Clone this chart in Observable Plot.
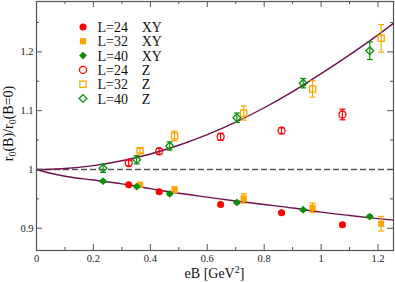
<!DOCTYPE html>
<html><head><meta charset="utf-8">
<script src="https://cdn.jsdelivr.net/npm/d3@7"></script>
<script src="https://cdn.jsdelivr.net/npm/@observablehq/plot@0.6"></script>
<style>
html,body{margin:0;padding:0;background:#fff;}
#chart{width:395px;height:282px;}
#chart svg, #chart svg text{font-family:'Liberation Serif','Times New Roman',serif !important;}
</style></head><body><div id="chart"></div>
<script>
// ---- data ----
const eB_L24 = [0.324, 0.431, 0.647, 0.861, 1.075];
const L24_XY = [0.974, 0.962, 0.9405, 0.9263, 0.906];
const L24_XY_err = [0.002, 0.002, 0.002, 0.002, 0.003];
const L24_Z = [1.011, 1.031, 1.0556, 1.066, 1.0935];
const L24_Z_err = [0.005, 0.005, 0.006, 0.005, 0.009];

const eB_L32 = [0.364, 0.485, 0.728, 0.970, 1.211];
const L32_XY = [0.974, 0.9655, 0.9507, 0.935, 0.9077];
const L32_XY_err = [0.003, 0.005, 0.008, 0.008, 0.0125];
const L32_Z = [1.032, 1.057, 1.096, 1.137, 1.223];
const L32_Z_err = [0.004, 0.008, 0.012, 0.014, 0.0235];

const eB_L40 = [0.234, 0.352, 0.468, 0.704, 0.937, 1.171];
const L40_XY = [0.980, 0.971, 0.9587, 0.944, 0.9315, 0.920];
const L40_XY_err = [0.002, 0.002, 0.002, 0.002, 0.002, 0.002];
const L40_Z = [1.002, 1.0165, 1.040, 1.088, 1.1468, 1.202];
const L40_Z_err = [0.007, 0.007, 0.007, 0.008, 0.008, 0.015];

// fit curves
const fit_eB = [0, 0.05, 0.1, 0.2, 0.3, 0.4, 0.5, 0.6, 0.7, 0.8, 0.9, 1.0, 1.1, 1.2, 1.255];
const fit_Z  = [1.0, 1.0004, 1.0016, 1.0066, 1.0148, 1.0264, 1.0412, 1.0592, 1.0805, 1.105, 1.1325, 1.163, 1.195, 1.229, 1.249];
const fit_XY = [1.0, 0.9935, 0.9885, 0.982, 0.9755, 0.9675, 0.9595, 0.953, 0.9465, 0.9405, 0.9345, 0.9275, 0.9218, 0.9165, 0.9138];

// ticks
const xMajor = [0, 0.2, 0.4, 0.6, 0.8, 1.0, 1.2];
const xTickLabels = ["0", "0.2", "0.4", "0.6", "0.8", "1", "1.2"];
const xMinor = [0.1, 0.3, 0.5, 0.7, 0.9, 1.1];
const yMajor = [0.9, 1.0, 1.1, 1.2];
const yTickLabels = ["0.9", "1", "1.1", "1.2"];
const yMinor = [0.95, 1.05, 1.15, 1.25];

// legend
const legendL = ["L=24", "L=32", "L=40", "L=24", "L=32", "L=40"];
const legendDir = ["XY", "XY", "XY", "Z", "Z", "Z"];

// ---- build ----
const W = 395, H = 282, mt = 1, mr = 2, mb = 32, ml = 36;
const frameW = W - ml - mr, frameH = H - mt - mb;
const RED = "#ff0000", ORANGE = "#ffa500", GREEN = "#0a8f0a", CURVE = "#6e104e", AX = "#555";

const ser = (x, y, e) => x.map((v, i) => ({eB: v, r: y[i], err: e[i]}));
const series = [
  {data: ser(eB_L24, L24_XY, L24_XY_err), color: RED, symbol: "circle", filled: true},
  {data: ser(eB_L32, L32_XY, L32_XY_err), color: ORANGE, symbol: "square", filled: true},
  {data: ser(eB_L40, L40_XY, L40_XY_err), color: GREEN, symbol: "diamond2", filled: true},
  {data: ser(eB_L24, L24_Z, L24_Z_err), color: RED, symbol: "circle", filled: false},
  {data: ser(eB_L32, L32_Z, L32_Z_err), color: ORANGE, symbol: "square", filled: false},
  {data: ser(eB_L40, L40_Z, L40_Z_err), color: GREEN, symbol: "diamond2", filled: false}
];
const fit = fit_eB.map((x, i) => ({eB: x, z: fit_Z[i], xy: fit_XY[i]}));

const cap = {draw(ctx, size) { const r = Math.sqrt(size / Math.PI); ctx.moveTo(-r, 0); ctx.lineTo(r, 0); }};

const marks = [
  Plot.ruleY([1], {stroke: AX, strokeWidth: 1.6, strokeDasharray: "6,3"}),
  Plot.line(fit, {x: "eB", y: "z", stroke: CURVE, strokeWidth: 1.4, curve: "monotone-x"}),
  Plot.line(fit, {x: "eB", y: "xy", stroke: CURVE, strokeWidth: 1.4, curve: "monotone-x"})
];
for (const s of series) {
  marks.push(Plot.ruleX(s.data, {x: "eB", y1: d => d.r - d.err, y2: d => d.r + d.err, stroke: s.color, strokeWidth: 1.2}));
  marks.push(Plot.dot(s.data, {x: "eB", y: d => d.r - d.err, symbol: cap, r: 3, fill: "none", stroke: s.color, strokeWidth: 1.2}));
  marks.push(Plot.dot(s.data, {x: "eB", y: d => d.r + d.err, symbol: cap, r: 3, fill: "none", stroke: s.color, strokeWidth: 1.2}));
  marks.push(Plot.dot(s.data, {x: "eB", y: "r", symbol: s.symbol, r: 3.5,
    fill: s.filled ? s.color : "none", stroke: s.filled ? "none" : s.color, strokeWidth: 1.3}));
}
// inward ticks on all four sides
marks.push(
  Plot.tickX(xMajor, {x: d => d, insetTop: frameH - 6, stroke: AX}),
  Plot.tickX(xMajor, {x: d => d, insetBottom: frameH - 6, stroke: AX}),
  Plot.tickX(xMinor, {x: d => d, insetTop: frameH - 3, stroke: AX}),
  Plot.tickX(xMinor, {x: d => d, insetBottom: frameH - 3, stroke: AX}),
  Plot.tickY(yMajor, {y: d => d, insetRight: frameW - 6, stroke: AX}),
  Plot.tickY(yMajor, {y: d => d, insetLeft: frameW - 6, stroke: AX}),
  Plot.tickY(yMinor, {y: d => d, insetRight: frameW - 3, stroke: AX}),
  Plot.tickY(yMinor, {y: d => d, insetLeft: frameW - 3, stroke: AX}),
  Plot.frame({stroke: AX, strokeWidth: 1.2})
);

const plot = Plot.plot({
  width: W, height: H,
  marginTop: mt, marginRight: mr, marginBottom: mb, marginLeft: ml,
  style: {fontFamily: "'Liberation Serif', 'Times New Roman', serif", fontSize: "10.5px", color: "#222", background: "white", overflow: "visible"},
  x: {domain: [0, 1.2544], ticks: xMajor, tickSize: 0, tickPadding: 4, label: null,
      tickFormat: d => xTickLabels[xMajor.indexOf(d)]},
  y: {domain: [0.8622, 1.2857], ticks: yMajor, tickSize: 0, tickPadding: 3, label: null,
      tickFormat: d => yTickLabels[yMajor.indexOf(d)]},
  marks
});
document.getElementById("chart").appendChild(plot);

// axis titles and legend
const svg = d3.select(plot);
const font = "'Liberation Serif', 'Times New Roman', serif";
const xl = svg.append("text").attr("x", ml + frameW / 2).attr("y", 278)
  .attr("text-anchor", "middle").attr("font-family", font).attr("font-size", 14).attr("fill", "#111");
xl.append("tspan").text("eB [GeV");
xl.append("tspan").attr("dy", -5).attr("font-size", 10).text("2");
xl.append("tspan").attr("dy", 5).text("]");

const yl = svg.append("text").attr("transform", `translate(12.5,${mt + frameH / 2 - 2}) rotate(-90)`)
  .attr("text-anchor", "middle").attr("font-family", font).attr("font-size", 14).attr("fill", "#111");
yl.append("tspan").text("r");
yl.append("tspan").attr("dy", 3).attr("font-size", 10).text("0");
yl.append("tspan").attr("dy", -3).text("(B)/r");
yl.append("tspan").attr("dy", 3).attr("font-size", 10).text("0");
yl.append("tspan").attr("dy", -3).text("(B=0)");

const symMap = {circle: d3.symbolCircle, square: d3.symbolSquare, diamond2: d3.symbolDiamond2};
const lg = svg.append("g");
series.forEach((s, i) => {
  const y = 27 + i * 14.3;
  lg.append("path").attr("transform", `translate(83,${y})`)
    .attr("d", d3.symbol().type(symMap[s.symbol]).size(Math.PI * 3.5 * 3.5)())
    .attr("fill", s.filled ? s.color : "none").attr("stroke", s.filled ? "none" : s.color).attr("stroke-width", 1.3);
  lg.append("text").attr("x", 97.5).attr("y", y + 5).attr("text-anchor", "start").attr("font-family", font).attr("font-size", 14).attr("fill", "#111").text(legendL[i]);
  lg.append("text").attr("x", 141.7).attr("y", y + 5).attr("text-anchor", "start").attr("font-family", font).attr("font-size", 14).attr("fill", "#111").text(legendDir[i]);
});
</script></body></html>
